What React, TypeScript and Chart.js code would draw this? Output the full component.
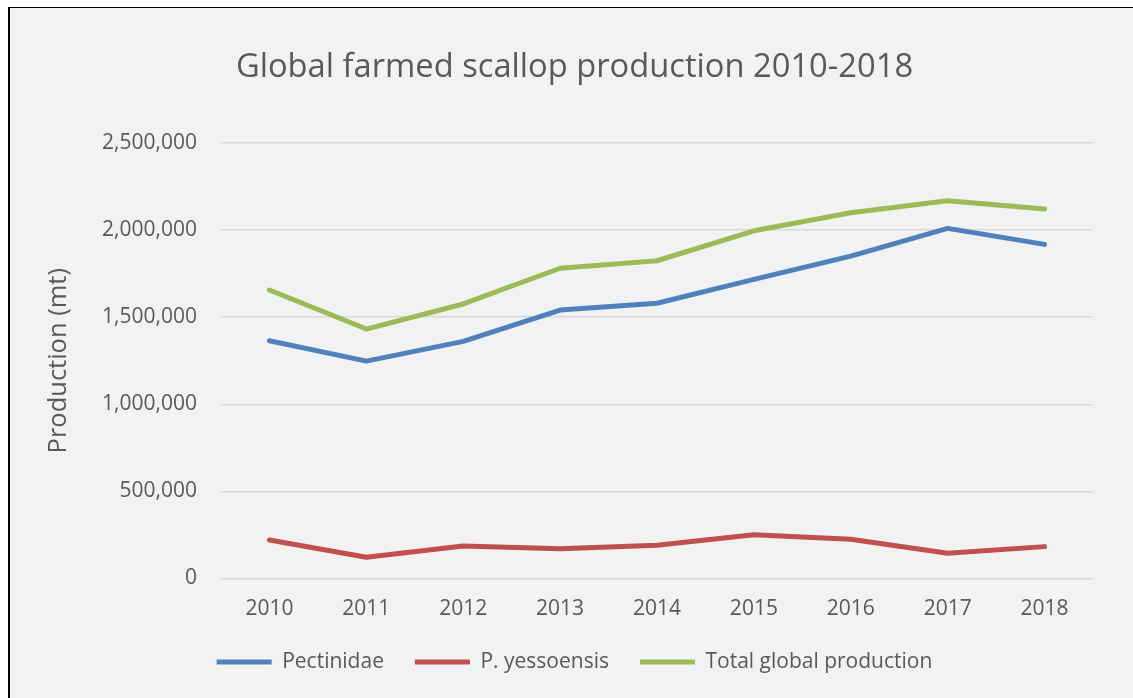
import React, { useEffect, useRef } from "react";
import { Chart, registerables } from "chart.js";

Chart.register(...registerables);

const years = ["2010", "2011", "2012", "2013", "2014", "2015", "2016", "2017", "2018"];
const pectinidae = [1365000, 1248000, 1361000, 1541000, 1580000, 1717000, 1851000, 2010000, 1918000];
const yessoensis = [221000, 122000, 187000, 171000, 191000, 251000, 225000, 145000, 183000];
const totalGlobal = [1656000, 1432000, 1576000, 1781000, 1824000, 1996000, 2100000, 2169000, 2121000];

const FONT = "'Open Sans', 'Noto Sans', sans-serif";
const TEXT = "#595959";

export default function App() {
  const ref = useRef<HTMLCanvasElement | null>(null);

  useEffect(() => {
    if (!ref.current) return;
    const mk = (label: string, data: number[], color: string) => ({
      label,
      data,
      borderColor: color,
      backgroundColor: color,
      borderWidth: 5,
      borderCapStyle: "round" as const,
      borderJoinStyle: "round" as const,
      pointRadius: 0,
      pointHoverRadius: 0,
      pointStyle: "line" as const,
      tension: 0,
      fill: false,
    });
    const chart = new Chart(ref.current, {
      type: "line",
      data: {
        labels: years,
        datasets: [
          mk("Pectinidae", pectinidae, "#4f81bd"),
          mk("P. yessoensis", yessoensis, "#c0504d"),
          mk("Total global production", totalGlobal, "#9bbb59"),
        ],
      },
      options: {
        animation: false,
        responsive: false,
        maintainAspectRatio: false,
        layout: { padding: { left: 48, right: 48, top: 0, bottom: 22.5 } },
        plugins: {
          tooltip: { enabled: false },
          title: {
            display: true,
            text: "Global farmed scallop production 2010-2018",
            color: TEXT,
            font: { family: FONT, size: 32.7, weight: "normal" },
            padding: { top: 41.4, bottom: 55.36 },
          },
          legend: {
            position: "bottom",
            labels: {
              usePointStyle: true,
              pointStyleWidth: 55,
              padding: 31,
              color: TEXT,
              font: { family: FONT, size: 21 },
            },
          },
        },
        scales: {
          x: {
            offset: true,
            grid: { display: false, drawTicks: false, offset: true },
            border: { display: false },
            ticks: { color: TEXT, font: { family: FONT, size: 21 }, padding: 18 },
            afterFit: (s: any) => {
              s.height = 42;
            },
          },
          y: {
            min: 0,
            max: 2500000,
            grid: { color: "#d9d9d9", lineWidth: 1.5, drawTicks: false },
            border: { display: false },
            ticks: {
              stepSize: 500000,
              color: TEXT,
              padding: 24,
              font: { family: FONT, size: 21 },
              callback: (v: any) => Number(v).toLocaleString("en-US"),
            },
            title: {
              display: true,
              text: "Production (mt)",
              color: TEXT,
              font: { family: FONT, size: 25.5 },
              padding: { top: -12.8, bottom: 0 },
            },
            afterFit: (s: any) => {
              s.width = 165;
            },
          },
        },
      },
    });
    return () => chart.destroy();
  }, []);

  return (
    <div
      style={{
        position: "fixed",
        left: 8,
        top: 7,
        width: 1133,
        height: 698,
        background: "#f2f2f2",
      }}
    >
      <canvas ref={ref} width={1133} height={698} style={{ position: "absolute", left: 0, top: 0, width: 1133, height: 698 }} />
      <div
        style={{
          position: "absolute",
          left: 0,
          top: 0,
          width: 1133,
          height: 698,
          borderLeft: "2px solid #000",
          borderTop: "1.5px solid #000",
          boxSizing: "border-box",
          pointerEvents: "none",
        }}
      />
    </div>
  );
}
